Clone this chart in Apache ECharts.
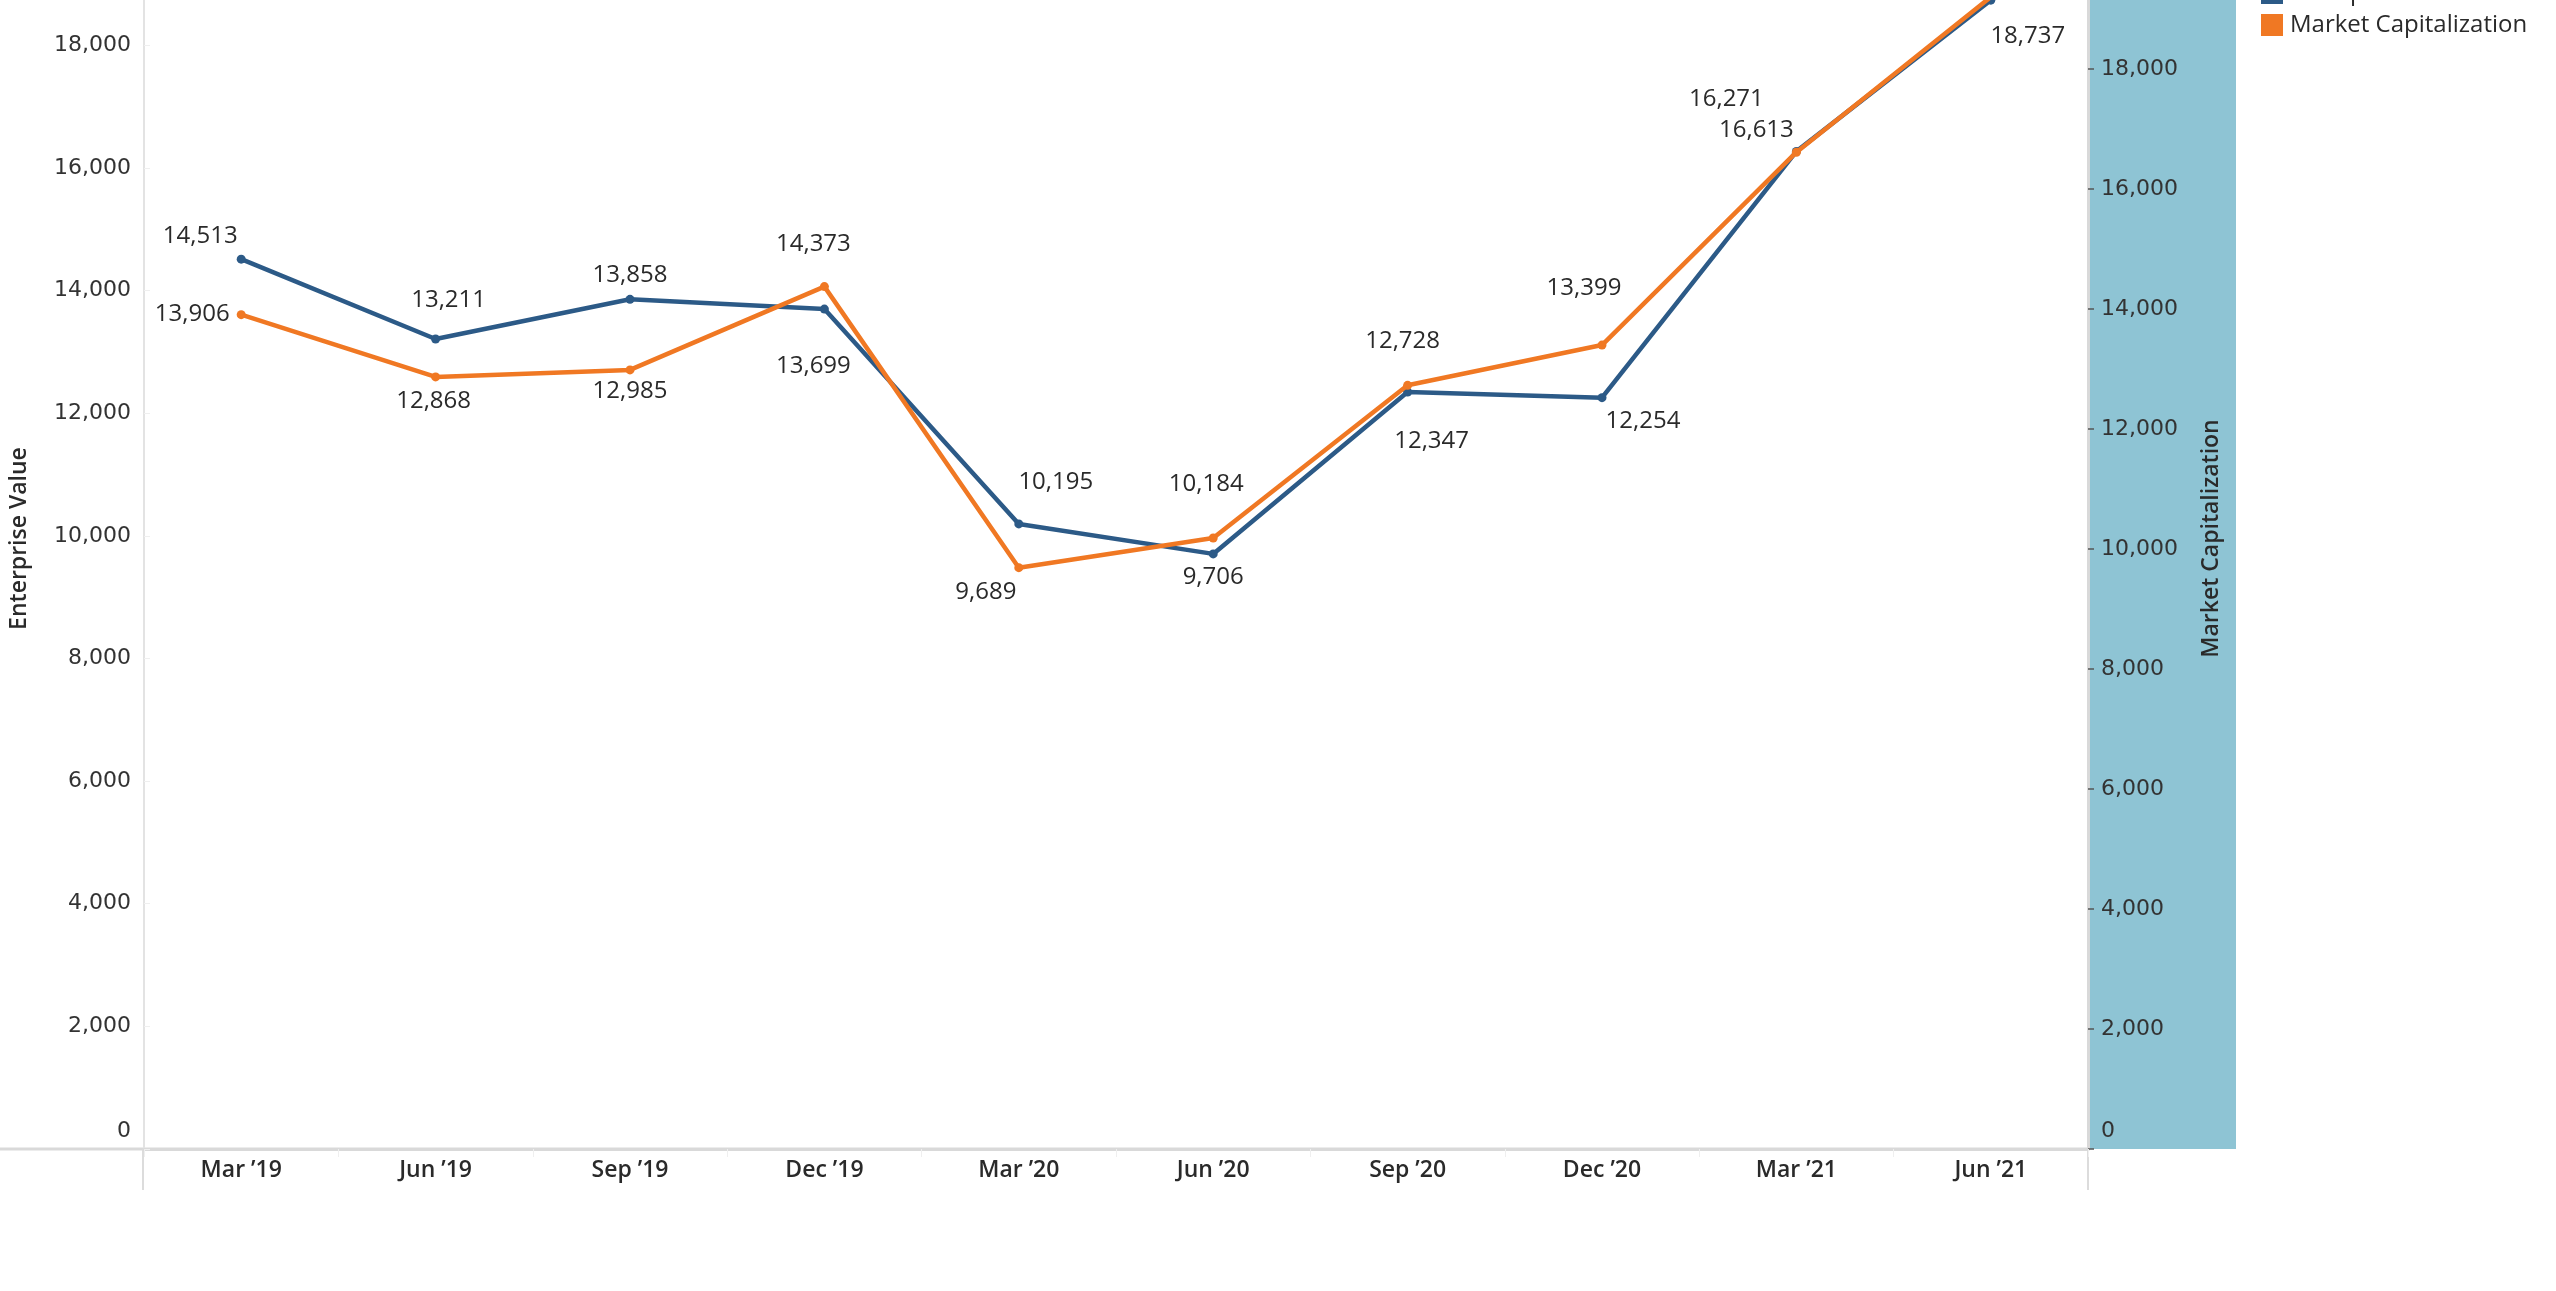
<!DOCTYPE html>
<html>
<head>
<meta charset="utf-8">
<script src="https://cdn.jsdelivr.net/npm/echarts@6/dist/echarts.min.js"></script>
<style>
  html, body { margin: 0; padding: 0; background: #ffffff; }
  #chart { width: 2556px; height: 1291px; }
</style>
</head>
<body>
<div id="chart"></div>
<script>
// ---- data ----
const categories = ["Mar \u201919", "Jun \u201919", "Sep \u201919", "Dec \u201919", "Mar \u201920",
                    "Jun \u201920", "Sep \u201920", "Dec \u201920", "Mar \u201921", "Jun \u201921"];
const enterpriseValue = [14513, 13211, 13858, 13699, 10195, 9706, 12347, 12254, 16271, 18737];
const marketCap = [13906, 12868, 12985, 14373, 9689, 10184, 12728, 13399, 16613, 19200];
const seriesNames = ["Enterprise Value", "Market Capitalization"];

// ---- label placement (style only): label centre minus point, in px ----
const evLabelOffsets = [[-41,-23],[13,-39],[0,-24],[-11,57],[37,-42],[0,23],[24,49],[41,23],[-70,-52],[37,36]];
const mcLabelOffsets = [[-49,0],[-2,24],[0,21],[-11,-42],[-33,24],[-7,-54],[-5,-44],[-18,-57],[-40,-22],null];

const BLUE = '#2c5a87';
const ORANGE = '#f07823';
const TXT = '#2a2a2a';
const tickFont = 'DejaVu Sans';
const textFont = '"Open Sans", "Noto Sans", sans-serif';

const fmt = v => v.toLocaleString('en-US');

function labelLayoutFor(offsets) {
  return params => {
    const off = offsets[params.dataIndex];
    if (!off) return { hideOverlap: false };
    return { dx: off[0], dy: off[1], hideOverlap: false };
  };
}

function valueAxisLabel(align) {
  return {
    fontFamily: tickFont, fontSize: 22, color: '#333333', align: align, margin: 13,
    showMaxLabel: false,
    formatter: v => v === 0 ? '{z|0}' : (v % 2000 === 0 ? fmt(v) : ''),
    rich: { z: { fontFamily: tickFont, fontSize: 22, color: '#333333', padding: [0, 0, 36, 0] } }
  };
}

const chart = echarts.init(document.getElementById('chart'), null, { renderer: 'canvas' });

const option = {
  backgroundColor: '#ffffff',
  animation: false,
  graphic: [
    { type: 'rect', z: -1, shape: { x: 2089, y: 0, width: 147, height: 1149 }, style: { fill: '#8ec4d4' } },
    { type: 'line', shape: { x1: 0, y1: 1149, x2: 2088, y2: 1149 }, style: { stroke: '#d9d9d9', lineWidth: 3 } },
    { type: 'line', shape: { x1: 143, y1: 1149, x2: 143, y2: 1190 }, style: { stroke: '#dcdcdc', lineWidth: 2 } },
    { type: 'line', shape: { x1: 2088, y1: 1149, x2: 2088, y2: 1190 }, style: { stroke: '#dcdcdc', lineWidth: 2 } }
  ],
  legend: {
    orient: 'vertical',
    left: 2261,
    top: -19,
    padding: 0,
    itemWidth: 22,
    itemHeight: 22,
    itemGap: 8,
    icon: 'rect',
    data: seriesNames,
    textStyle: { fontFamily: textFont, fontSize: 24, color: TXT, padding: [0, 0, 0, 2] }
  },
  grid: { left: 143, right: 468, top: 0, bottom: 142, containLabel: false },
  xAxis: {
    type: 'category',
    data: categories,
    boundaryGap: true,
    axisLine: { show: true, lineStyle: { color: '#d9d9d9', width: 3 } },
    axisTick: { show: true, length: 8, interval: 0, lineStyle: { color: '#efefef', width: 1 } },
    axisLabel: { fontFamily: textFont, fontSize: 23, fontWeight: 600, color: TXT, margin: 10, interval: 0 },
    splitLine: { show: false }
  },
  yAxis: [
    {
      type: 'value', position: 'left', min: 0, max: 18740, interval: 2000,
      name: seriesNames[0], nameLocation: 'middle', nameGap: 113, nameRotate: 90,
      nameTextStyle: { fontFamily: textFont, fontSize: 23, fontWeight: 600, color: TXT, padding: [0, 0, 0, 72] },
      axisLine: { show: true, lineStyle: { color: '#e3e3e3', width: 2 } },
      axisTick: { show: true, inside: true, length: 6, lineStyle: { color: '#efefef' } },
      axisLabel: valueAxisLabel('right'),
      splitLine: { show: false }
    },
    {
      type: 'value', position: 'right', min: 0, max: 19150, interval: 2000,
      name: seriesNames[1], nameLocation: 'middle', nameGap: 112, nameRotate: 90,
      nameTextStyle: { fontFamily: textFont, fontSize: 23, fontWeight: 600, color: TXT, padding: [0, 0, 0, 72] },
      axisLine: { show: true, lineStyle: { color: '#d9d9d9', width: 3 } },
      axisTick: { show: true, length: 6, lineStyle: { color: '#555555', width: 1.5 } },
      axisLabel: valueAxisLabel('left'),
      splitLine: { show: false }
    }
  ],
  series: [
    {
      name: seriesNames[0], type: 'line', yAxisIndex: 0,
      data: enterpriseValue,
      symbol: 'circle', symbolSize: 9, showSymbol: true,
      lineStyle: { color: BLUE, width: 4.5 },
      itemStyle: { color: BLUE },
      label: { show: true, position: 'inside', fontFamily: textFont, fontSize: 24, color: TXT, formatter: p => fmt(p.value) },
      labelLayout: labelLayoutFor(evLabelOffsets),
      emphasis: { disabled: true },
      z: 3
    },
    {
      name: seriesNames[1], type: 'line', yAxisIndex: 1,
      data: marketCap.map((v, i) => mcLabelOffsets[i] ? v : { value: v, label: { show: false } }),
      symbol: 'circle', symbolSize: 9, showSymbol: true,
      lineStyle: { color: ORANGE, width: 4.5 },
      itemStyle: { color: ORANGE },
      label: { show: true, position: 'inside', fontFamily: textFont, fontSize: 24, color: TXT, formatter: p => fmt(p.value) },
      labelLayout: labelLayoutFor(mcLabelOffsets),
      emphasis: { disabled: true },
      z: 4
    }
  ]
};
chart.setOption(option);
</script>
</body>
</html>
